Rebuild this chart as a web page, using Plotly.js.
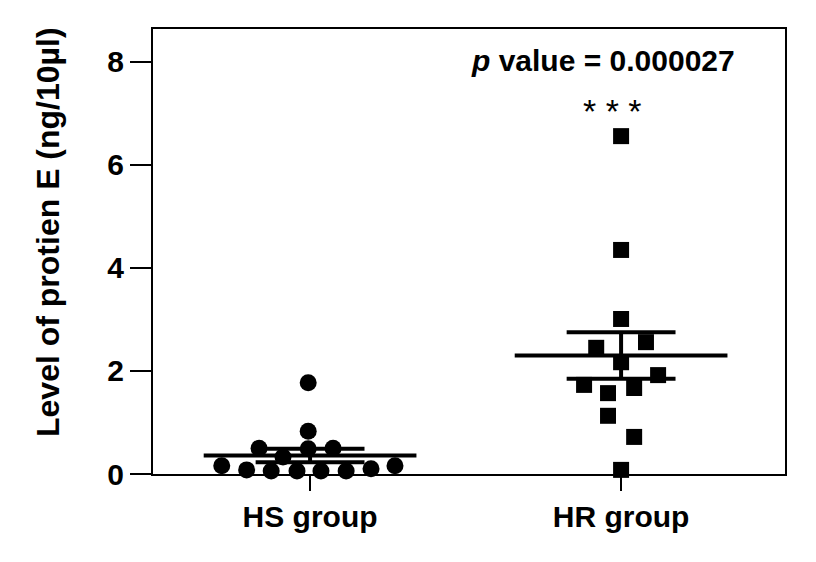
<!DOCTYPE html>
<html>
<head>
<meta charset="utf-8">
<script src="https://cdn.plot.ly/plotly-3.0.1.min.js"></script>
<style>html,body{margin:0;padding:0;background:#fff;}</style>
</head>
<body>
<div id="chart" style="width:816px;height:562px;"></div>
<script>
// ---- data ----
var groups = ['HS group', 'HR group'];
var hsValues  = [1.77, 0.83, 0.50, 0.49, 0.50, 0.33, 0.16, 0.08, 0.06, 0.06, 0.06, 0.06, 0.10, 0.16];
var hsJitter  = [-0.006, -0.006, -0.164, -0.006, 0.074, -0.087, -0.284, -0.204, -0.125, -0.042, 0.035, 0.116, 0.196, 0.273];
var hrValues  = [6.56, 4.35, 3.01, 2.45, 2.56, 2.17, 1.92, 1.73, 1.57, 1.67, 1.13, 0.72, 0.08];
var hrJitter  = [0, 0, 0, -0.08, 0.08, 0, 0.119, -0.119, -0.042, 0.042, -0.042, 0.042, 0];
var groupMeans = [0.36, 2.30];
var groupSEM   = [0.13, 0.45];
var yTicks = [0, 2, 4, 6, 8];
var yTitle = 'Level of protien E (ng/10µl)';
var pText = 'p value = 0.000027';
var sigText = '* * *';

// ---- build traces ----
function jitterX(idx, offs) { return offs.map(function (o) { return idx + o; }); }

var meanHalf = 0.342, semHalf = 0.175;
var meanX = [], meanY = [], semX = [], semY = [];
groupMeans.forEach(function (m, i) {
  meanX.push(i - meanHalf, i + meanHalf, null);
  meanY.push(m, m, null);
  var lo = m - groupSEM[i], hi = m + groupSEM[i];
  semX.push(i - semHalf, i + semHalf, null, i - semHalf, i + semHalf, null, i, i, null);
  semY.push(hi, hi, null, lo, lo, null, lo, hi, null);
});

var traces = [
  {x: meanX, y: meanY, mode: 'lines', line: {color: '#000', width: 4}, hoverinfo: 'skip', showlegend: false, cliponaxis: false},
  {x: semX, y: semY, mode: 'lines', line: {color: '#000', width: 4}, hoverinfo: 'skip', showlegend: false, cliponaxis: false},
  {x: jitterX(0, hsJitter), y: hsValues, mode: 'markers', name: groups[0],
   marker: {symbol: 'circle', size: 17, color: '#000'}, showlegend: false, cliponaxis: false},
  {x: jitterX(1, hrJitter), y: hrValues, mode: 'markers', name: groups[1],
   marker: {symbol: 'square', size: 16, color: '#000'}, showlegend: false, cliponaxis: false}
];

var font = 'Liberation Sans, Arial, sans-serif';
var layout = {
  width: 816, height: 562,
  margin: {l: 153, r: 31, t: 29, b: 88},
  paper_bgcolor: '#fff', plot_bgcolor: '#fff',
  showlegend: false,
  font: {family: font, color: '#000'},
  xaxis: {
    range: [-0.505, 1.527],
    tickvals: [0, 1], ticktext: groups.map(function (g) { return '<b>' + g + '</b>'; }),
    ticks: 'outside', ticklen: 15, tickwidth: 2, tickcolor: '#000',
    showline: true, linewidth: 2, linecolor: '#000', mirror: true,
    showgrid: false, zeroline: false,
    tickfont: {family: font, size: 30, color: '#000'}
  },
  yaxis: {
    range: [0, 8.64],
    tickvals: yTicks, ticktext: yTicks.map(function (t) { return '<b>' + t + '</b>'; }),
    ticks: 'outside', ticklen: 21, tickwidth: 1.5, tickcolor: '#000',
    showline: true, linewidth: 2, linecolor: '#000', mirror: true,
    showgrid: false, zeroline: false,
    tickfont: {family: font, size: 30, color: '#000'}
  },
  annotations: [
    {xref: 'paper', yref: 'paper', x: -0.166, y: 0.544, xanchor: 'center', yanchor: 'middle', textangle: -90,
     text: '<b>' + yTitle + '</b>', showarrow: false, font: {family: font, size: 32, color: '#000'}},
    {xref: 'paper', yref: 'paper', x: 0.712, y: 0.930, xanchor: 'center', yanchor: 'middle',
     text: '<b><i>' + pText.charAt(0) + '</i>' + pText.slice(1) + '</b>',
     showarrow: false, font: {family: font, size: 30, color: '#000'}},
    {xref: 'x', yref: 'y', x: 1, y: 7.05, xanchor: 'center', yanchor: 'middle', xshift: -9,
     text: sigText, showarrow: false, font: {family: font, size: 34, color: '#000'}}
  ]
};

Plotly.newPlot('chart', traces, layout, {displayModeBar: false, staticPlot: true});
</script>
</body>
</html>
